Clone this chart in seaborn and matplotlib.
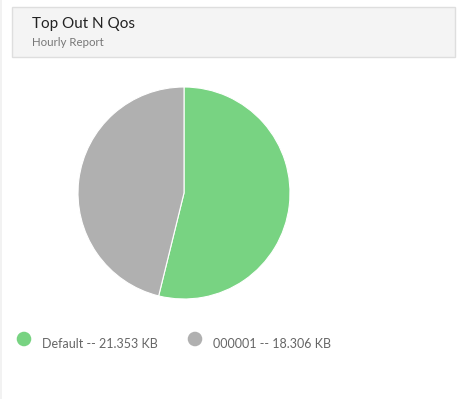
import matplotlib
matplotlib.use('Agg')
import matplotlib.pyplot as plt
import seaborn as sns
import pandas as pd
from matplotlib.patches import Rectangle

labels = ["Default", "000001"]
values = [21.353, 18.306]
units = "KB"
colors = ["#78d382", "#b0b0b0"]
title = "Top Out N Qos"
subtitle = "Hourly Report"

sns.set_theme(style='white')
plt.rcParams['font.family'] = ['Lato', 'DejaVu Sans']

W, H = 461, 399
fig = plt.figure(figsize=(W / 100, H / 100), dpi=100)
fig.patch.set_facecolor('white')

# background axes in pixel coordinates (header, legend)
bg = fig.add_axes([0, 0, 1, 1])
bg.set_xlim(0, W)
bg.set_ylim(H, 0)
bg.axis('off')

bg.add_patch(Rectangle((0, 0), 2, H, facecolor='#f2f2f2', edgecolor='none'))
bg.add_patch(Rectangle((11.5, 6.5), 443, 50.5, facecolor='#f4f4f4',
                       edgecolor='#dedede', linewidth=1))
bg.text(32, 24, title, fontsize=11, color='#222222', va='center', ha='left')
bg.text(32, 43, subtitle, fontsize=8.3, color='#777777', va='center', ha='left')

# legend markers and labels
leg = pd.DataFrame({"x": [24, 195], "y": [339, 339], "label": labels})
sns.scatterplot(data=leg, x="x", y="y", hue="label", palette=colors, s=110,
                edgecolor='none', legend=False, ax=bg)
for lx, lab, val in zip(leg["x"], labels, values):
    bg.text(lx + 18, 344, f"{lab} -- {val:.3f} {units}", fontsize=9,
            color='#666666', ha='left', va='center')
bg.set_xlim(0, W)
bg.set_ylim(H, 0)
bg.axis('off')

# pie
cx, cy, r = 184, 193, 106
ax = fig.add_axes([(cx - r) / W, 1 - (cy + r) / H, 2 * r / W, 2 * r / H])
ax.pie(values, colors=colors, startangle=90, counterclock=False,
       wedgeprops=dict(edgecolor='white', linewidth=0.8))
ax.set_xlim(-1, 1)
ax.set_ylim(-1, 1)
ax.set_aspect('auto')
ax.axis('off')

fig.savefig('out.png', dpi=100)
